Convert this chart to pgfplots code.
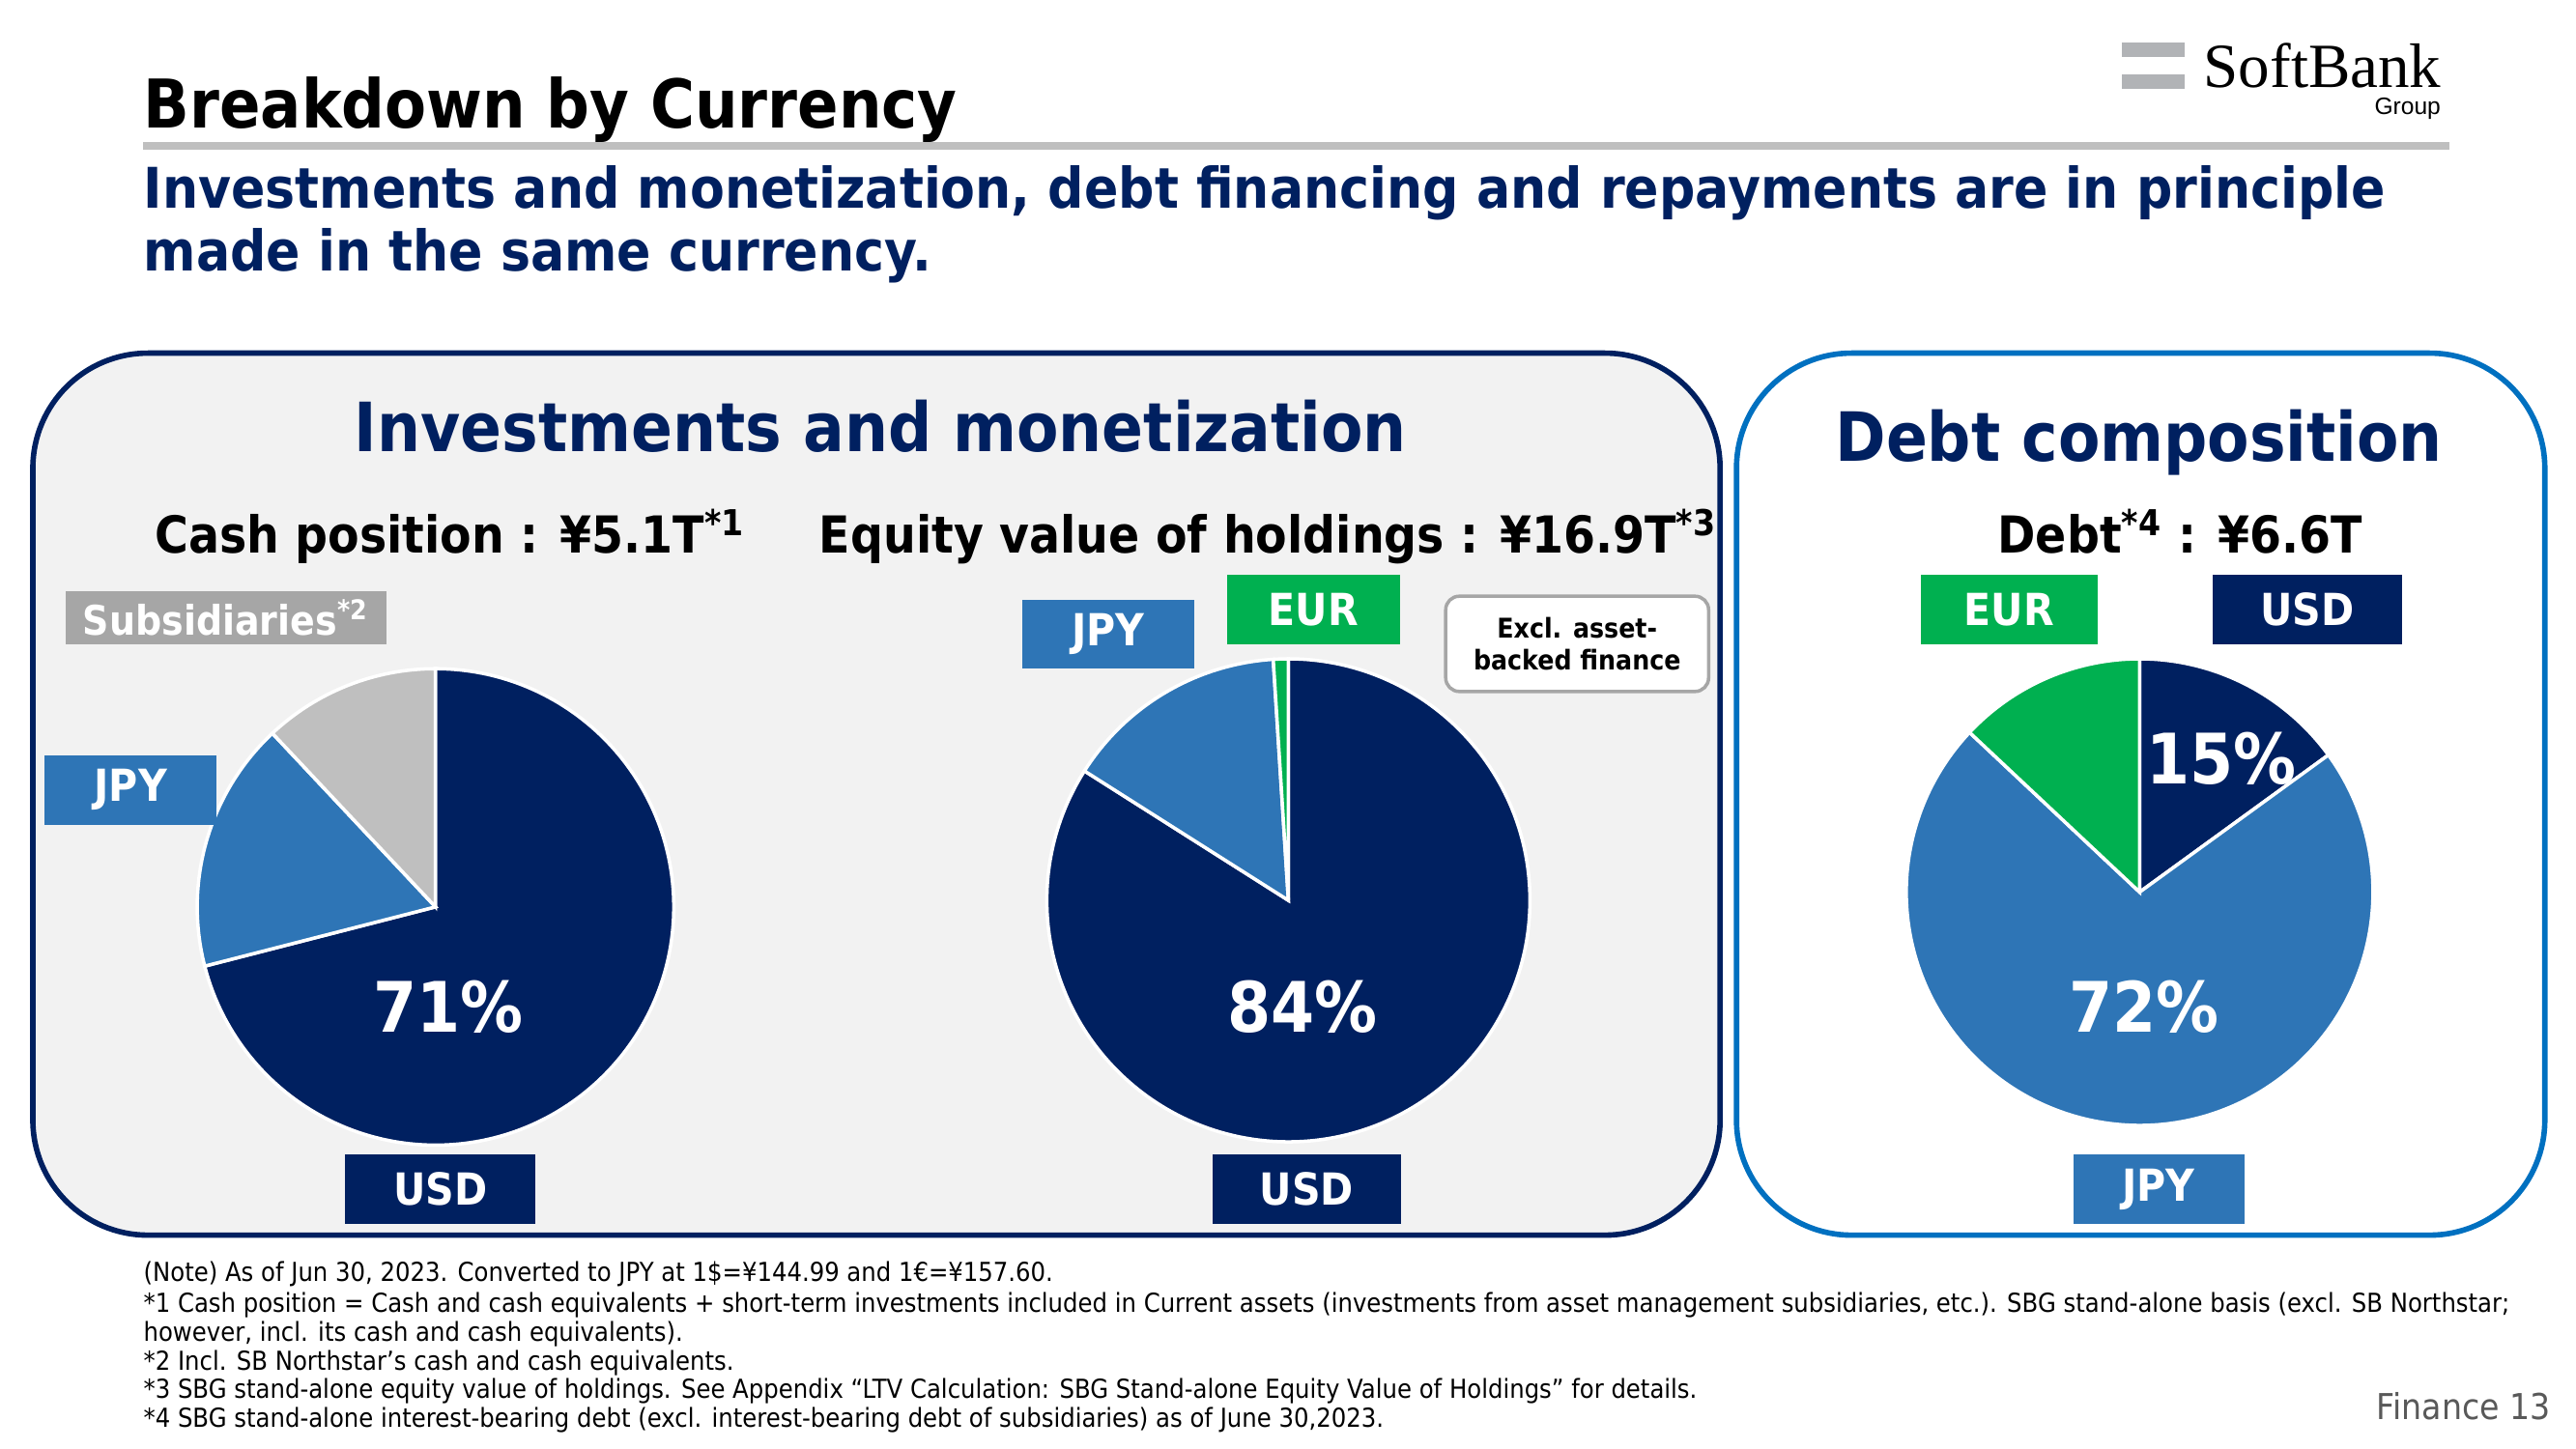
\documentclass[border=0pt]{standalone}
\usepackage{pgfplots}
\pgfplotsset{compat=1.18}
\usepackage{fontspec}
\setmainfont{DejaVu Sans}[FakeStretch=0.9]
\newfontfamily\logofont{Liberation Serif}
\newfontfamily\grpfont{Liberation Sans}

\definecolor{cNavy}{HTML}{002060}
\definecolor{cJPY}{HTML}{2E75B6}
\definecolor{cEUR}{HTML}{00B050}
\definecolor{cSUB}{HTML}{BFBFBF}
\definecolor{cSUBlab}{HTML}{A6A6A6}
\definecolor{cPanel}{HTML}{F2F2F2}
\definecolor{cRight}{HTML}{0070C0}
\definecolor{cRule}{HTML}{BFBFBF}
\definecolor{cLogo}{HTML}{B1B3B6}
\definecolor{cPage}{HTML}{595959}

\newcommand{\fs}[2]{\fontsize{#1}{#2}\selectfont}
\newcommand{\pxu}{0.017003cm}

% shares in percent, clockwise from 12 o'clock
\def\cashdata{71/cNavy, 17/cJPY, 12/cSUB}
\def\equitydata{84/cNavy, 15/cJPY, 1/cEUR}
\def\debtdata{15/cNavy, 72/cJPY, 13/cEUR}

% #1 radius, #2 list value/colour
\newcommand{\drawpie}[2]{%
  \gdef\pieang{90}%
  \foreach \v/\c in #2 {%
    \pgfmathsetmacro{\pieend}{\pieang-3.6*\v}%
    \edef\temp{\noexpand\filldraw[fill=\c, draw=white, line width=1pt]
      (axis cs:0,0) -- ++(\pieang:#1) arc[start angle=\pieang, end angle=\pieend, radius=#1] -- cycle;}%
    \temp
    \global\let\pieang\pieend
  }%
}

\tikzset{
  lab/.style={fill=#1, text=white, inner sep=0pt, font=\bfseries\fs{13}{15}},
  tx/.style={inner sep=0pt},
}

\begin{document}
\begin{tikzpicture}[x=0.017003cm, y=-0.017003cm]
\fill[white] (0,0) rectangle (1568,882);

% logo
\fill[cLogo] (1291.5,26) rectangle (1329.7,34.7);
\fill[cLogo] (1291.5,45.3) rectangle (1329.7,54.1);
\node[tx, anchor=base west, font=\logofont\fs{18.5}{20}] at (1341,53) {SoftBank};
\node[tx, anchor=base east, font=\grpfont\fs{7}{8}] at (1486,69.5) {Group};

% title
\node[tx, anchor=base west, font=\bfseries\fs{19.8}{24}] at (87,78) {Breakdown by Currency};
\fill[cRule] (87,86.5) rectangle (1491,91);
\node[tx, anchor=base west, text=cNavy, font=\bfseries\fs{16.5}{19}] at (87,127)
  {Investments and monetization, debt financing and repayments are in principle};
\node[tx, anchor=base west, text=cNavy, font=\bfseries\fs{16.5}{19}] at (87,165)
  {made in the same currency.};

% panels
\filldraw[fill=cPanel, draw=cNavy, line width=1.6pt, rounded corners=1.19cm] (20,215) rectangle (1047,752);
\filldraw[fill=white, draw=cRight, line width=1.6pt, rounded corners=1.19cm] (1057,215) rectangle (1549,752);

\node[tx, anchor=base, text=cNavy, font=\bfseries\fs{20}{24}] at (536,275) {Investments and monetization};
\node[tx, anchor=base, text=cNavy, font=\bfseries\fs{20}{24}] at (1302,281) {Debt composition};

\node[tx, anchor=base, font=\bfseries\fs{15}{17}] at (274,337) {Cash position : ¥5.1T\textsuperscript{*1}};
\node[tx, anchor=base, font=\bfseries\fs{15}{17}] at (772,337) {Equity value of holdings : ¥16.9T\textsuperscript{*3}};
\node[tx, anchor=base, font=\bfseries\fs{15}{17}] at (1327,337) {Debt\textsuperscript{*4} : ¥6.6T};

% pies
\begin{axis}[at={(4.5058cm,-9.3857cm)}, anchor=center, hide axis, scale only axis,
  width=4.931cm, height=4.931cm, xmin=-1, xmax=1, ymin=-1, ymax=1, clip=false]
\drawpie{2.4654cm}{\cashdata}
\end{axis}
\begin{axis}[at={(13.3304cm,-9.3176cm)}, anchor=center, hide axis, scale only axis,
  width=4.9988cm, height=4.9988cm, xmin=-1, xmax=1, ymin=-1, ymax=1, clip=false]
\drawpie{2.4994cm}{\equitydata}
\end{axis}
\begin{axis}[at={(22.1379cm,-9.2326cm)}, anchor=center, hide axis, scale only axis,
  width=4.8288cm, height=4.8288cm, xmin=-1, xmax=1, ymin=-1, ymax=1, clip=false]
\drawpie{2.4144cm}{\debtdata}
\end{axis}

% percentages
\node[tx, text=white, font=\bfseries\fs{20.5}{24}] at (273,613) {71\%};
\node[tx, text=white, font=\bfseries\fs{20.5}{24}] at (793,613) {84\%};
\node[tx, text=white, font=\bfseries\fs{20.5}{24}] at (1305,613) {72\%};
\node[tx, text=white, font=\bfseries\fs{20.5}{24}] at (1352,462) {15\%};

% labels
\node[lab=cSUBlab, minimum width={195*\pxu}, minimum height={32*\pxu}, font=\bfseries\fs{12}{14}] at (137.5,376) {Subsidiaries\textsuperscript{*2}};
\node[lab=cJPY, minimum width={105*\pxu}, minimum height={42*\pxu}] at (79.5,481) {JPY};
\node[lab=cNavy, minimum width={116*\pxu}, minimum height={42*\pxu}] at (268,724) {USD};

\node[lab=cJPY, minimum width={105*\pxu}, minimum height={42*\pxu}] at (674.5,386) {JPY};
\node[lab=cEUR, minimum width={105*\pxu}, minimum height={42*\pxu}] at (799.5,371) {EUR};
\node[lab=cNavy, minimum width={115*\pxu}, minimum height={42*\pxu}] at (795.5,724) {USD};
\node[draw=cSUBlab, fill=white, line width=1pt, rounded corners=0.14cm, align=center,
  minimum width={160*\pxu}, minimum height={58*\pxu}, inner sep=0pt, font=\bfseries\fs{8}{9.4}]
  at (960,392) {Excl. asset-\\backed finance};

\node[lab=cEUR, minimum width={108*\pxu}, minimum height={42*\pxu}] at (1223,371) {EUR};
\node[lab=cNavy, minimum width={115*\pxu}, minimum height={42*\pxu}] at (1404.5,371) {USD};
\node[lab=cJPY, minimum width={104*\pxu}, minimum height={42*\pxu}] at (1314,724) {JPY};

% notes
\begin{scope}[every node/.style={tx, anchor=base west, font=\fs{7.7}{9}}]
\node at (87,780) {(Note) As of Jun 30, 2023. Converted to JPY at 1\$=¥144.99 and 1€=¥157.60.};
\node at (87,799) {*1 Cash position = Cash and cash equivalents + short-term investments included in Current assets (investments from asset management subsidiaries, etc.). SBG stand-alone basis (excl. SB Northstar;};
\node at (87,816.5) {however, incl. its cash and cash equivalents).};
\node at (87,834) {*2 Incl. SB Northstar’s cash and cash equivalents.};
\node at (87,851.5) {*3 SBG stand-alone equity value of holdings. See Appendix “LTV Calculation: SBG Stand-alone Equity Value of Holdings” for details.};
\node at (87,869) {*4 SBG stand-alone interest-bearing debt (excl. interest-bearing debt of subsidiaries) as of June 30,2023.};
\end{scope}
\node[tx, anchor=base east, text=cPage, font=\fs{10.5}{12}] at (1553,864) {Finance 13};
\end{tikzpicture}
\end{document}
